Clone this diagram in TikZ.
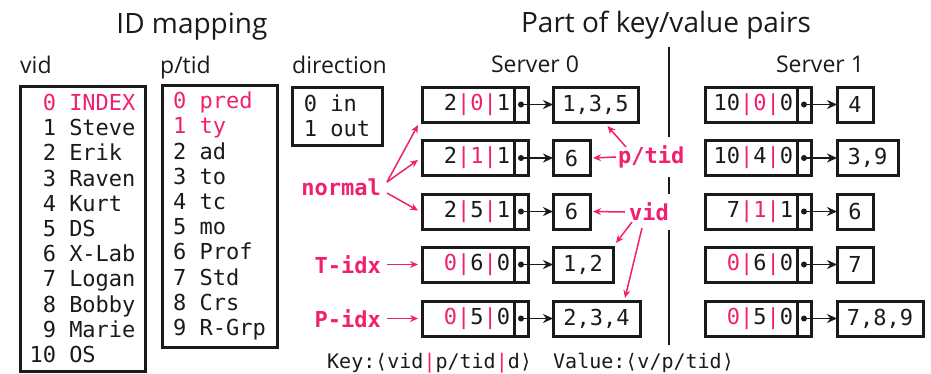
\documentclass[tikz,border=0pt]{standalone}
\usepackage{fontspec}
\setmainfont{Open Sans}
\newfontfamily\mono{DejaVu Sans Mono}
\usetikzlibrary{arrows.meta}
\definecolor{pk}{HTML}{F0206E}
\definecolor{ink}{HTML}{1A1A1A}
% pink separator bar and pink highlighted text
\newcommand{\pb}{\textcolor{pk}{|}}
\newcommand{\pz}[1]{\textcolor{pk}{#1}}
\begin{document}
\begin{tikzpicture}[x=1pt,y=-1pt,
  title/.style={font=\fontsize{28}{32}\selectfont, text=ink, inner sep=0pt, anchor=base},
  sub/.style={font=\fontsize{23}{28}\selectfont, text=ink, inner sep=0pt, anchor=base west},
  listbox/.style={draw=ink, line width=3pt, align=left, inner sep=0pt, outer sep=0pt, text=ink,
    font=\mono\fontsize{22}{25.2}\selectfont},
  keybox/.style={draw=ink, line width=3pt, minimum width=92pt, minimum height=35pt, text width=84pt,
    align=right, inner xsep=4pt, inner ysep=0pt, outer sep=0pt, anchor=west, text=ink,
    font=\mono\fontsize{22}{26}\selectfont},
  ptrcell/.style={draw=ink, line width=3pt, minimum width=14pt, minimum height=35pt, inner sep=0pt,
    outer sep=0pt, anchor=west},
  valbox/.style={draw=ink, line width=3pt, minimum height=35pt, inner xsep=6pt, inner ysep=0pt,
    outer sep=0pt, anchor=west, text=ink, font=\mono\fontsize{22}{26}\selectfont},
  ptr/.style={draw=ink, line width=1.8pt, -{Stealth[length=10pt,width=9pt]}},
  tag/.style={text=pk, font=\mono\bfseries\fontsize{22}{26}\selectfont, inner sep=0pt},
  hint/.style={draw=pk, line width=1.5pt, -{Stealth[length=8pt,width=7pt]}},
  legend/.style={anchor=base west, inner sep=0pt, text=ink, font=\mono\fontsize{20}{24}\selectfont},
]
\useasboundingbox (0,0) rectangle (931,373);

% headings
\node[title] (tmap) at (192,33) {ID mapping};
\node[title] (tkv) at (666,32) {Part of key/value pairs};
\node[sub] (hvid) at (20,73) {vid};
\node[sub] (hpt) at (160,73) {p/tid};
\node[sub] (hdir) at (292,73) {direction};
\node[sub, anchor=base] (hs0) at (535,72) {Server 0};
\node[sub, anchor=base] (hs1) at (820,72) {Server 1};

% ID mapping tables
\node[listbox, minimum width=125pt, minimum height=285pt] (vidlist) at (82.5,228.5)
  {\pz{\phantom{1}0 INDEX}\\ \phantom{1}1 Steve\\ \phantom{1}2 Erik\\ \phantom{1}3 Raven\\
   \phantom{1}4 Kurt\\ \phantom{1}5 DS\\ \phantom{1}6 X-Lab\\ \phantom{1}7 Logan\\
   \phantom{1}8 Bobby\\ \phantom{1}9 Marie\\ 10 OS};
\node[listbox, minimum width=115pt, minimum height=262pt] (ptlist) at (219.5,216)
  {\pz{0 pred}\\ \pz{1 ty}\\ 2 ad\\ 3 to\\ 4 tc\\ 5 mo\\ 6 Prof\\ 7 Std\\ 8 Crs\\ 9 R-Grp};
\node[listbox, minimum width=90pt, minimum height=58pt] (dirlist) at (337,116)
  {0 in\\ 1 out};

% divider between the two servers
\draw[ink, line width=1.5pt] (669,47) -- (669,345);

% Server 0 key/value pairs
\node[keybox] (a1) at (422,104.5) {2\pb\pz{0}\pb1};
\node[keybox] (a2) at (422,158) {2\pb\pz{1}\pb1};
\node[keybox] (a3) at (422,211.5) {2\pb5\pb1};
\node[keybox] (a4) at (422,264.5) {\pz{0}\pb6\pb0};
\node[keybox] (a5) at (422,318.5) {\pz{0}\pb5\pb0};
\foreach \r in {1,...,5} {\node[ptrcell] (a\r p) at (a\r.east) {};}
\node[valbox, minimum width=85pt] (a1v) at (553,104.5) {1,3,5};
\node[valbox, minimum width=37pt] (a2v) at (553,158) {6};
\node[valbox, minimum width=37pt] (a3v) at (553,211.5) {6};
\node[valbox, minimum width=60pt] (a4v) at (553,264.5) {1,2};
\node[valbox, minimum width=87pt] (a5v) at (553,318.5) {2,3,4};

% Server 1 key/value pairs
\node[keybox] (b1) at (705,104.5) {10\pb\pz{0}\pb0};
\node[keybox] (b2) at (705,158) {10\pb4\pb0};
\node[keybox] (b3) at (705,211.5) {7\pb\pz{1}\pb1};
\node[keybox] (b4) at (705,264.5) {\pz{0}\pb6\pb0};
\node[keybox] (b5) at (705,318.5) {\pz{0}\pb5\pb0};
\foreach \r in {1,...,5} {\node[ptrcell] (b\r p) at (b\r.east) {};}
\node[valbox, minimum width=36pt] (b1v) at (837,104.5) {4};
\node[valbox, minimum width=61pt] (b2v) at (837,158) {3,9};
\node[valbox, minimum width=36pt] (b3v) at (837,211.5) {6};
\node[valbox, minimum width=36pt] (b4v) at (837,264.5) {7};
\node[valbox, minimum width=86pt] (b5v) at (837,318.5) {7,8,9};

% pointers from keys to values
\foreach \s in {a,b} {
  \foreach \r in {1,...,5} {
    \fill[ink] (\s\r p.center) circle (3pt);
    \draw[ptr] (\s\r p.center) -- (\s\r v.west);
  }
}

% annotations
\node[tag, anchor=east] (normal) at (381,187) {normal};
\node[tag, anchor=east] (tidx) at (381,264.5) {T-idx};
\node[tag, anchor=east] (pidx) at (381,318.5) {P-idx};
\draw[hint] ([shift={(6,-5)}]normal.east) -- ([shift={(-4,3)}]a1.south west);
\draw[hint] ([shift={(6,-5)}]normal.east) -- ([shift={(-4,2)}]a2.west);
\draw[hint] ([shift={(6,6)}]normal.east) -- ([shift={(-4,-1)}]a3.west);
\draw[hint] ([xshift=6]tidx.east) -- ([xshift=-4]a4.west);
\draw[hint] ([xshift=6]pidx.east) -- ([xshift=-4]a5.west);

\node[tag, fill=white, inner xsep=1pt, inner ysep=9pt, anchor=west] (ptl) at (617,157) {p/tid};
\node[tag, fill=white, inner xsep=3pt, inner ysep=9pt, anchor=west] (vidl) at (626,212) {vid};
\draw[hint] ([xshift=-1]ptl.west) -- ([xshift=3]a2v.east);
\draw[hint] ([shift={(9,-10)}]ptl.west) -- ([shift={(12,4)}]a1v.south);
\draw[hint] ([xshift=-1]vidl.west) -- ([xshift=3]a3v.east);
\draw[hint] ([shift={(6,10)}]vidl.west) -- ([shift={(3,-4)}]a4v.north east);
\draw[hint] ([shift={(16,16)}]vidl.west) -- ([shift={(-15,-3)}]a5v.north east);

% legend
\node[legend] (keyl) at (327,368) {Key:⟨vid\pb p/tid\pb d⟩};
\node[legend] (vall) at (553,368) {Value:⟨v/p/tid⟩};
\end{tikzpicture}
\end{document}
